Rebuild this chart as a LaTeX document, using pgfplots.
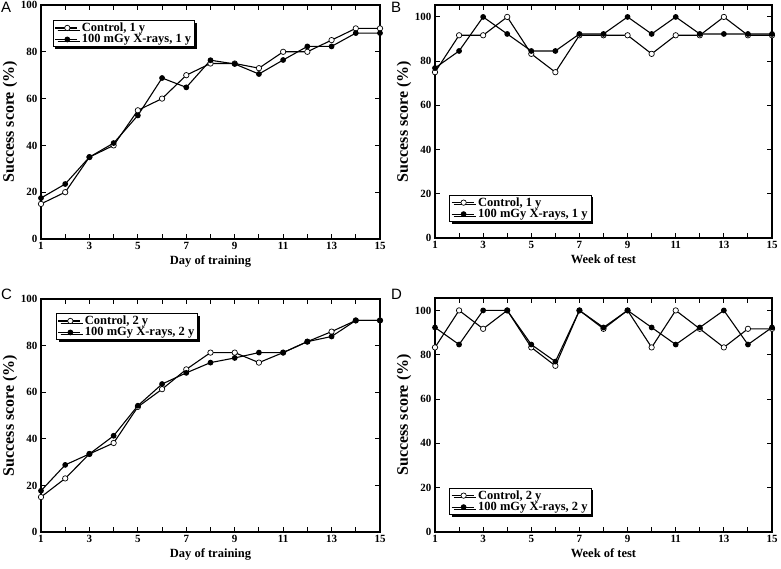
\documentclass[border=0pt]{standalone}
\usepackage{pgfplots}
\pgfplotsset{compat=1.18}
\usepackage{fontspec}
\setmainfont{Liberation Serif}
\newfontfamily\arial{Liberation Sans}
\usetikzlibrary{shadows}

\pgfplotsset{
 panel/.style={
  scale only axis, width=339pt, height=234pt,
  xmin=1, xmax=15, xtick={1,...,15},
  xticklabels={1,,3,,5,,7,,9,,11,,13,,15},
  ytick={0,20,...,100},
  tick align=inside, major tick length=5pt,
  axis line style={line width=1.4pt},
  every tick/.style={line width=1pt, black},
  tick label style={font=\bfseries\fontsize{11}{12}\selectfont},
  /pgf/number format/assume math mode=true,
  ylabel={Success score (\%)},
  every axis y label/.style={at={(axis description cs:0,0.5)}, rotate=90, anchor=center, yshift=31pt,
      font=\bfseries\fontsize{16}{18}\selectfont},
  every axis x label/.style={at={(ticklabel cs:0.5)}, anchor=north, yshift=1pt,
      font=\bfseries\fontsize{12.5}{14}\selectfont},
  legend cell align=left,
  legend style={draw=black, line width=0.8pt, fill=white,
     font=\bfseries\fontsize{12.5}{13}\selectfont,
     inner xsep=1.5pt, inner ysep=0.5pt, row sep=-2.5pt,
     drop shadow={shadow xshift=2.2pt, shadow yshift=-2.2pt, fill=black, opacity=1}},
  legend image code/.code={\draw[##1, mark repeat=2, mark phase=2]
      plot coordinates {(0pt,0pt) (12pt,0pt) (22pt,0pt)}; \path (24pt,0pt);},
 },
 ctrl/.style={black, line width=1.1pt, mark=*, mark size=2.7pt,
     mark options={fill=white, draw=black, line width=0.7pt}},
 irr/.style={black, line width=1.1pt, mark=*, mark size=2.3pt,
     mark options={fill=black}},
}

\begin{document}
\begin{tikzpicture}
\useasboundingbox (0pt,0pt) rectangle (781pt,568pt);

% Panel A
\begin{axis}[panel, at={(41pt,329pt)}, anchor=south west,
  ymin=0, ymax=100, xlabel={Day of training},
  legend style={at={(0.035,0.936)}, anchor=north west}]
\addplot[ctrl] coordinates {(1,15) (2,20) (3,35) (4,40) (5,55) (6,60) (7,70) (8,75) (9,75) (10,73) (11,80) (12,80) (13,85) (14,90) (15,90)};
\addlegendentry{Control, 1 y}
\addplot[irr] coordinates {(1,17.5) (2,23.5) (3,35) (4,41) (5,52.8) (6,68.8) (7,64.8) (8,76.4) (9,74.8) (10,70.5) (11,76.5) (12,82.3) (13,82.3) (14,88) (15,88)};
\addlegendentry{100 mGy X-rays, 1 y}
\end{axis}

% Panel B
\begin{axis}[panel, width=337pt, height=233pt, at={(435pt,330pt)}, anchor=south west,
  ymin=0, ymax=105.4, xlabel={Week of test},
  legend style={at={(0.042,0.069)}, anchor=south west}]
\addplot[ctrl] coordinates {(1,75) (2,91.7) (3,91.7) (4,100) (5,83.3) (6,75) (7,91.7) (8,91.7) (9,91.7) (10,83.3) (11,91.7) (12,91.7) (13,100) (14,91.7) (15,91.7)};
\addlegendentry{Control, 1 y}
\addplot[irr] coordinates {(1,76.9) (2,84.6) (3,100) (4,92.3) (5,84.6) (6,84.6) (7,92.3) (8,92.3) (9,100) (10,92.3) (11,100) (12,92.3) (13,92.3) (14,92.3) (15,92.3)};
\addlegendentry{100 mGy X-rays, 1 y}
\end{axis}

% Panel C
\begin{axis}[panel, height=233pt, at={(41pt,36pt)}, anchor=south west,
  ymin=0, ymax=100, xlabel={Day of training},
  legend style={at={(0.044,0.94)}, anchor=north west}]
\addplot[ctrl] coordinates {(1,15) (2,23) (3,33.5) (4,38.2) (5,53.7) (6,61.3) (7,69.8) (8,77) (9,77) (10,72.7) (11,77) (12,81.7) (13,86) (14,90.8) (15,90.8)};
\addlegendentry{Control, 2 y}
\addplot[irr] coordinates {(1,17.7) (2,28.8) (3,33.5) (4,41.3) (5,54.2) (6,63.5) (7,68.3) (8,72.7) (9,74.7) (10,77) (11,77) (12,81.7) (13,83.9) (14,90.8) (15,90.8)};
\addlegendentry{100 mGy X-rays, 2 y}
\end{axis}

% Panel D
\begin{axis}[panel, width=337pt, height=234pt, at={(435pt,36pt)}, anchor=south west,
  ymin=0, ymax=105.6, xlabel={Week of test},
  legend style={at={(0.042,0.073)}, anchor=south west}]
\addplot[ctrl] coordinates {(1,83.3) (2,100) (3,91.7) (4,100) (5,83.3) (6,75) (7,100) (8,91.7) (9,100) (10,83.3) (11,100) (12,91.7) (13,83.3) (14,91.7) (15,91.7)};
\addlegendentry{Control, 2 y}
\addplot[irr] coordinates {(1,92.3) (2,84.6) (3,100) (4,100) (5,84.6) (6,76.9) (7,100) (8,92.3) (9,100) (10,92.3) (11,84.6) (12,92.3) (13,100) (14,84.6) (15,92.3)};
\addlegendentry{100 mGy X-rays, 2 y}
\end{axis}

% Panel letters
\node[anchor=north west, inner sep=0pt, font=\arial\fontsize{15}{16}\selectfont] at (1pt,566pt) {A};
\node[anchor=north west, inner sep=0pt, font=\arial\fontsize{15}{16}\selectfont] at (391pt,566pt) {B};
\node[anchor=north west, inner sep=0pt, font=\arial\fontsize{15}{16}\selectfont] at (1pt,279pt) {C};
\node[anchor=north west, inner sep=0pt, font=\arial\fontsize{15}{16}\selectfont] at (391pt,279pt) {D};
\end{tikzpicture}
\end{document}
